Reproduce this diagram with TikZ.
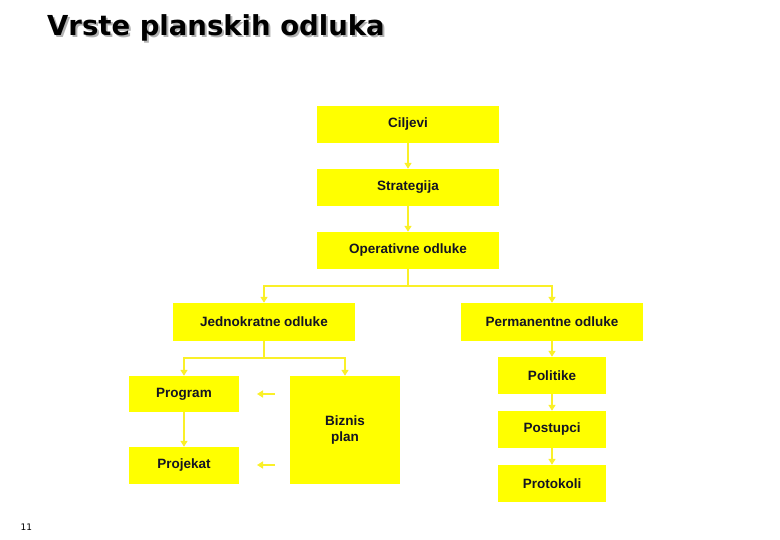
\documentclass[tikz,border=0pt]{standalone}
\usepackage{fontspec}
\setmainfont{Liberation Sans}
\newfontfamily\numfont{DejaVu Sans}
\newfontfamily\titlefont{DejaVu Sans}
\usetikzlibrary{arrows.meta}
\definecolor{boxyellow}{RGB}{255,255,0}
\definecolor{lineyellow}{RGB}{250,240,40}
\definecolor{txt}{RGB}{20,20,35}
\newcommand{\shadowtext}[1]{\makebox[0pt][l]{\hspace{2pt}\raisebox{-2pt}{\textcolor{black!30}{#1}}}#1}
\tikzset{
  box/.style={fill=boxyellow, draw=none, inner sep=0pt, text=txt, font=\bfseries\fontsize{13.5}{16}\selectfont, align=center},
  conn/.style={draw=lineyellow, line width=2pt, -{Triangle[width=7pt,length=6pt]}},
  plain/.style={draw=lineyellow, line width=2pt}
}
\begin{document}
\begin{tikzpicture}[x=1pt,y=-1pt]
\useasboundingbox (0,0) rectangle (780,540);
% title with shadow
\node[anchor=west, inner sep=0pt, text=black, font=\titlefont\bfseries\fontsize{27.5}{30}\selectfont] (title) at (47,29) {\shadowtext{Vrste planskih odluka}};
\node[anchor=west, font=\numfont\fontsize{9}{10}\selectfont] (pg) at (17,527) {11};
% boxes
\node[box, minimum width=182pt, minimum height=37pt] (cilj) at (408,124.5) {Ciljevi};
\node[box, minimum width=182pt, minimum height=37pt] (strat) at (408,187.5) {Strategija};
\node[box, minimum width=182pt, minimum height=37pt] (oper) at (408,250.5) {Operativne odluke};
\node[box, minimum width=182pt, minimum height=38pt] (jedn) at (264,322) {Jednokratne odluke};
\node[box, minimum width=182pt, minimum height=38pt] (perm) at (552,322) {Permanentne odluke};
\node[box, minimum width=110pt, minimum height=36pt] (prog) at (184,394) {Program};
\node[box, minimum width=110pt, minimum height=37pt] (proj) at (184,465.5) {Projekat};
\node[box, minimum width=110pt, minimum height=108pt] (biz) at (345,430) {Biznis\\plan};
\node[box, minimum width=108pt, minimum height=37pt] (pol) at (552,375.5) {Politike};
\node[box, minimum width=108pt, minimum height=37pt] (post) at (552,429.5) {Postupci};
\node[box, minimum width=108pt, minimum height=37pt] (prot) at (552,483.5) {Protokoli};
% connectors
\draw[conn] (cilj) -- (strat);
\draw[conn] (strat) -- (oper);
\draw[plain] (oper.south) -- (408,286);
\draw[conn] (408,286) -| (jedn.north);
\draw[conn] (408,286) -| (perm.north);
\draw[plain] (jedn.south) -- (264,358);
\draw[conn] (264,358) -| (prog.north);
\draw[conn] (264,358) -| (biz.north);
\draw[conn] (prog) -- (proj);
\draw[conn] (perm) -- (pol);
\draw[conn] (pol) -- (post);
\draw[conn] (post) -- (prot);
\coordinate (a1s) at (275,394);
\coordinate (a1e) at (257,394);
\coordinate (a2s) at (275,465);
\coordinate (a2e) at (257,465);
\draw[conn] (a1s) -- (a1e);
\draw[conn] (a2s) -- (a2e);
\end{tikzpicture}
\end{document}
